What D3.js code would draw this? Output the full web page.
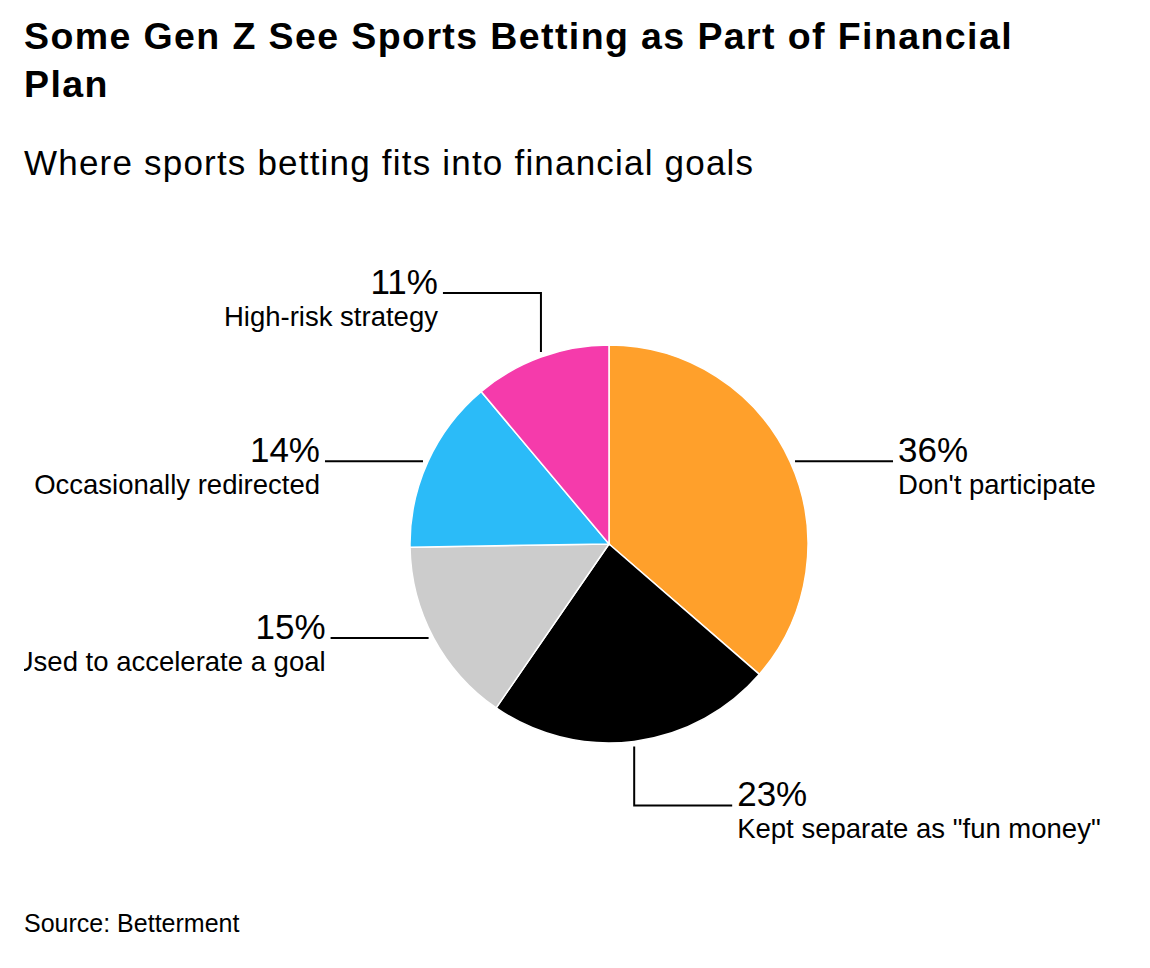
<!DOCTYPE html>
<html lang="en">
<head>
<meta charset="utf-8">
<script src="https://cdn.jsdelivr.net/npm/d3@7"></script>
<style>
    body { margin: 0; background: #fff; }
    svg { display: block; font-family: "Liberation Sans", Arial, Helvetica, sans-serif; }
</style>
</head>
<body>
<script>
    // chart values
    const categories = ["Don't participate", "Kept separate as \"fun money\"", "Used to accelerate a goal", "Occasionally redirected", "High-risk strategy"];
    const shares = [36, 23, 15, 14, 11];
    const titleLines = ["Some Gen Z See Sports Betting as Part of Financial", "Plan"];
    const subtitle = "Where sports betting fits into financial goals";
    const source = "Source: Betterment";

    let w = 1150;
    let h = 968;
    let cx = 609, cy = 544, radius = 199;

    let svg = d3.select("body")
        .append("svg")
        .attr("width", w)
        .attr("height", h);

    svg.append("defs").append("clipPath")
        .attr("id", "plot-clip")
        .append("rect")
        .attr("x", 24).attr("y", 0)
        .attr("width", w - 48).attr("height", h);

    // title + subtitle
    svg.append("text")
        .attr("x", 24)
        .attr("y", 49)
        .style("font-size", "37.5px")
        .style("font-weight", "bold")
        .style("letter-spacing", "1.4px")
        .selectAll("tspan")
        .data(titleLines)
        .join("tspan")
        .attr("x", 24)
        .attr("dy", (d, i) => i === 0 ? 0 : 48)
        .text(d => d);

    svg.append("text")
        .attr("x", 24)
        .attr("y", 175)
        .style("font-size", "35px")
        .style("letter-spacing", "1.2px")
        .text(subtitle);

    let data = categories.map((c, i) => ({ label: c, value: shares[i] }));

    const colorScale = d3.scaleOrdinal()
        .domain(categories)
        .range(["#ffa02b", "#000000", "#cccccc", "#2bbbf8", "#f53bab"]);

    let pie = d3.pie().sort(null).value(d => d.value);
    let arc = d3.arc().innerRadius(0).outerRadius(radius);
    let arcs = pie(data);

    let chart = svg.append("g")
        .attr("clip-path", "url(#plot-clip)");

    let g = chart.append("g")
        .attr("transform", `translate(${cx},${cy})`);

    g.selectAll("path.slice")
        .data(arcs)
        .join("path")
        .attr("class", "slice")
        .attr("d", arc)
        .attr("fill", d => colorScale(d.data.label))
        .attr("stroke", "#fff")
        .attr("stroke-width", 1.5);

    // leader lines + labels
    let gap = 5, run = 98, rise = 59;
    arcs.forEach(d => {
        let mid = (d.startAngle + d.endAngle) / 2;
        let sx = Math.sin(mid), sy = -Math.cos(mid);
        let px = radius * sx, py = radius * sy;
        let hdir = sx >= 0 ? 1 : -1;
        let pts, ex, ey;
        if (Math.abs(sx) > 0.6) {
            ey = py;
            ex = px + hdir * (gap + run);
            pts = [[px + hdir * gap, py], [ex, ey]];
        } else {
            let vdir = sy >= 0 ? 1 : -1;
            ey = py + vdir * (gap + rise);
            ex = px + hdir * run;
            pts = [[px, py + vdir * gap], [px, ey], [ex, ey]];
        }
        g.append("path")
            .attr("d", d3.line()(pts))
            .attr("fill", "none")
            .attr("stroke", "#000")
            .attr("stroke-width", 2);

        let anchor = hdir > 0 ? "start" : "end";
        let tx = ex + hdir * 5;
        g.append("text")
            .attr("x", tx)
            .attr("y", ey + 1)
            .attr("text-anchor", anchor)
            .style("font-size", "35px")
            .text(d.data.value + "%");
        g.append("text")
            .attr("x", tx)
            .attr("y", ey + 33)
            .attr("text-anchor", anchor)
            .style("font-size", "27.5px")
            .text(d.data.label);
    });

    svg.append("text")
        .attr("x", 24)
        .attr("y", 932)
        .style("font-size", "25px")
        .text(source);
</script>
</body>
</html>
